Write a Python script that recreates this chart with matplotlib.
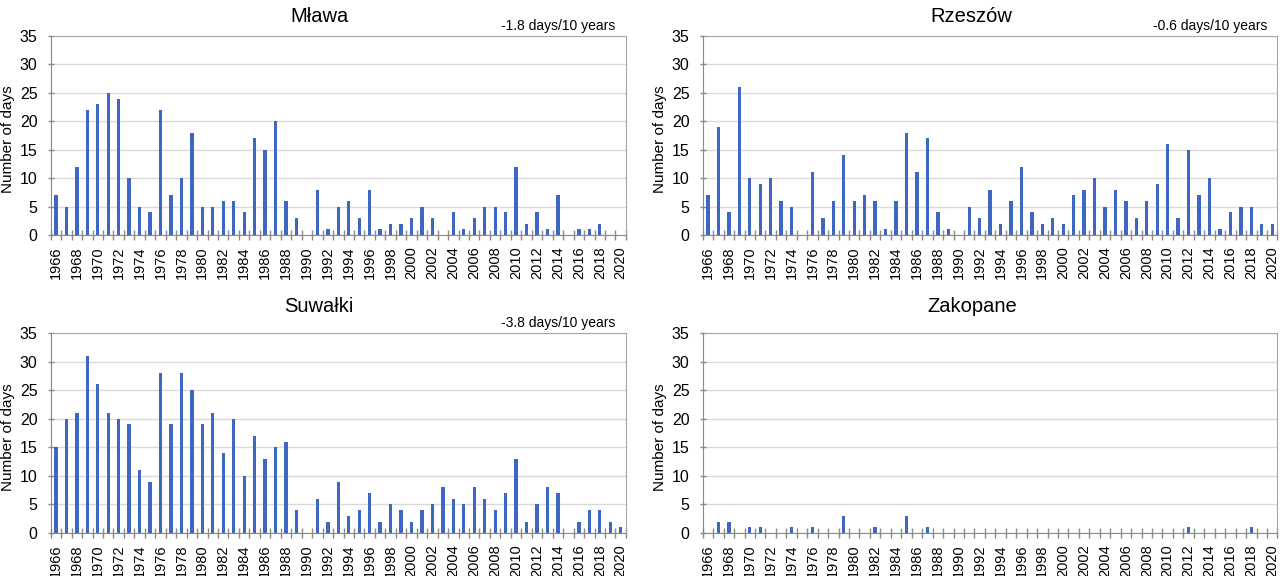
import matplotlib.pyplot as plt
import numpy as np

plt.rcParams['font.family'] = ['Liberation Sans', 'DejaVu Sans']

# data
years = list(range(1966, 2021))

mlawa = [7, 5, 12, 22, 23, 25, 24, 10, 5, 4,
         22, 7, 10, 18, 5, 5, 6, 6, 4, 17,
         15, 20, 6, 3, 0, 8, 1, 5, 6, 3,
         8, 1, 2, 2, 3, 5, 3, 0, 4, 1,
         3, 5, 5, 4, 12, 2, 4, 1, 7, 0,
         1, 1, 2, 0, 0]
rzeszow = [7, 19, 4, 26, 10, 9, 10, 6, 5, 0,
           11, 3, 6, 14, 6, 7, 6, 1, 6, 18,
           11, 17, 4, 1, 0, 5, 3, 8, 2, 6,
           12, 4, 2, 3, 2, 7, 8, 10, 5, 8,
           6, 3, 6, 9, 16, 3, 15, 7, 10, 1,
           4, 5, 5, 2, 2]
suwalki = [15, 20, 21, 31, 26, 21, 20, 19, 11, 9,
           28, 19, 28, 25, 19, 21, 14, 20, 10, 17,
           13, 15, 16, 4, 0, 6, 2, 9, 3, 4,
           7, 2, 5, 4, 2, 4, 5, 8, 6, 5,
           8, 6, 4, 7, 13, 2, 5, 8, 7, 0,
           2, 4, 4, 2, 1]
zakopane = [0, 2, 2, 0, 1, 1, 0, 0, 1, 0,
            1, 0, 0, 3, 0, 0, 1, 0, 0, 3,
            0, 1, 0, 0, 0, 0, 0, 0, 0, 0,
            0, 0, 0, 0, 0, 0, 0, 0, 0, 0,
            0, 0, 0, 0, 0, 0, 1, 0, 0, 0,
            0, 0, 1, 0, 0]

stations = ['Mława', 'Rzeszów', 'Suwałki', 'Zakopane']
series = [mlawa, rzeszow, suwalki, zakopane]
trends = ['-1.8 days/10 years', '-0.6 days/10 years', '-3.8 days/10 years', '']

bar_color = '#3D67C2'
axis_gray = '#898989'
grid_gray = '#D9D9D9'

fig = plt.figure(figsize=(12.8, 5.76), dpi=100)

# [left, bottom, width, height] per panel
boxes = [[0.0396, 0.592, 0.4494, 0.3455],
         [0.549, 0.592, 0.449, 0.3455],
         [0.0396, 0.0747, 0.4494, 0.347],
         [0.549, 0.0747, 0.449, 0.347]]
title_pos = [(319, 17), (971, 17), (319, 306), (972, 306)]

x = np.arange(len(years))

for i in range(4):
    ax = fig.add_axes(boxes[i])
    ax.bar(x, series[i], width=0.32, color=bar_color, zorder=3)

    ax.set_xlim(-0.5, len(years) - 0.5)
    ax.set_ylim(0, 35)
    ax.set_yticks(range(0, 36, 5))
    ax.set_xticks(x[::2])
    ax.set_xticklabels([str(y) for y in years[::2]], rotation=90)
    ax.set_xticks(np.arange(-0.5, len(years), 1), minor=True)

    ax.tick_params(axis='x', which='major', length=0, pad=8, labelsize=10.5)
    ax.tick_params(axis='x', which='minor', direction='inout', length=7,
                   width=1, color=axis_gray)
    ax.tick_params(axis='y', direction='inout', length=5, width=1,
                   color=axis_gray, pad=7, labelsize=11.5)

    ax.grid(axis='y', color=grid_gray, linewidth=1, zorder=0)
    for s in ['top', 'right']:
        ax.spines[s].set_color('#A6A6A6')
    for s in ['left', 'bottom']:
        ax.spines[s].set_color(axis_gray)
        ax.spines[s].set_zorder(4)

    ax.set_ylabel('Number of days', fontsize=11, va='center')
    ax.yaxis.set_label_coords(-0.074, 0.48)

    if trends[i]:
        ax.text(0.982, 1.05, trends[i], transform=ax.transAxes,
                ha='right', va='center', fontsize=10)

    fig.text(title_pos[i][0] / 1280, 1 - title_pos[i][1] / 576, stations[i],
             ha='center', va='center', fontsize=14.5)

fig.savefig('out.png', dpi=100)
